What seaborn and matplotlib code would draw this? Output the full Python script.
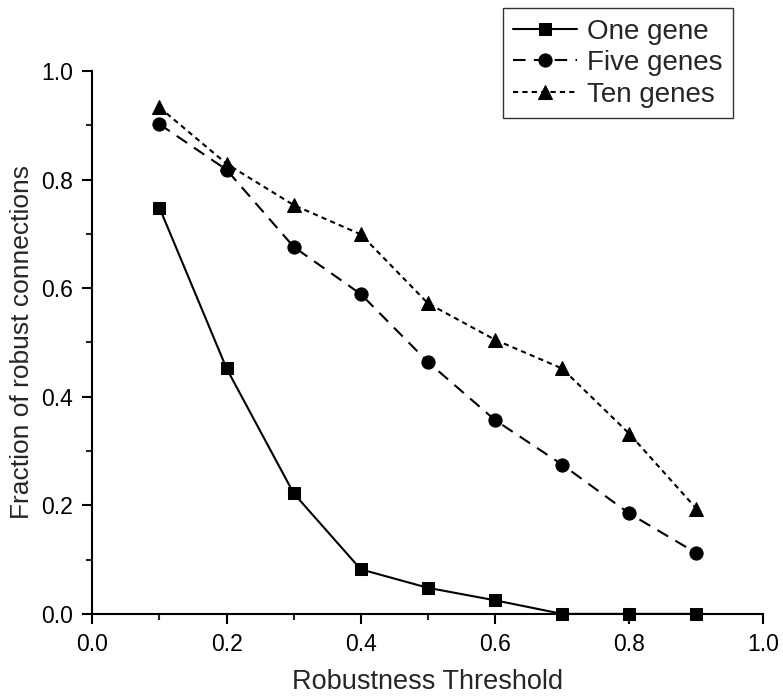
import matplotlib
matplotlib.use("Agg")
import matplotlib.pyplot as plt
from matplotlib.ticker import MultipleLocator
import seaborn as sns
import pandas as pd

# --- Data ---
thresholds = [0.1, 0.2, 0.3, 0.4, 0.5, 0.6, 0.7, 0.8, 0.9]
one_gene = [0.748, 0.452, 0.222, 0.082, 0.048, 0.025, 0.0, 0.0, 0.0]
five_genes = [0.902, 0.818, 0.676, 0.589, 0.464, 0.357, 0.275, 0.185, 0.112]
ten_genes = [0.933, 0.829, 0.753, 0.699, 0.572, 0.505, 0.452, 0.332, 0.194]
series_names = ["One gene", "Five genes", "Ten genes"]

sns.set_theme(style="ticks")
plt.rcParams["font.family"] = ["Liberation Sans", "DejaVu Sans"]

df = pd.DataFrame({
    "threshold": thresholds * 3,
    "fraction": one_gene + five_genes + ten_genes,
    "series": [n for n in series_names for _ in thresholds],
})

fig = plt.figure(figsize=(7.83, 6.96), dpi=100)
ax = fig.add_axes([0.118, 0.118, 0.857, 0.780])

styles = {
    "One gene": dict(marker="s", ls="-", ms=8.5),
    "Five genes": dict(marker="o", ls=(0, (6, 4)), ms=9.5),
    "Ten genes": dict(marker="^", ls=(0, (2.5, 2)), ms=10.5),
}
for name in series_names:
    sub = df[df["series"] == name]
    st = styles[name]
    sns.lineplot(data=sub, x="threshold", y="fraction", ax=ax, color="black",
                 marker=st["marker"], linestyle=st["ls"], markersize=st["ms"],
                 markeredgecolor="black", linewidth=1.5, label=name)

ax.set_xlim(0, 1.0)
ax.set_ylim(0, 1.0)
ax.xaxis.set_major_locator(MultipleLocator(0.2))
ax.xaxis.set_minor_locator(MultipleLocator(0.1))
ax.yaxis.set_major_locator(MultipleLocator(0.2))
ax.yaxis.set_minor_locator(MultipleLocator(0.1))
ax.set_xticklabels([f"{v:.1f}" for v in ax.get_xticks()])
ax.set_yticklabels([f"{v:.1f}" for v in ax.get_yticks()])
ax.tick_params(which="major", direction="out", length=7, width=1.5,
               labelsize=16.5, colors="black", pad=7)
ax.tick_params(which="minor", direction="out", length=4, width=1.5)
for side in ["left", "bottom"]:
    ax.spines[side].set_linewidth(1.5)
    ax.spines[side].set_color("black")
sns.despine(ax=ax)

ax.set_xlabel("Robustness Threshold", fontsize=19.5, labelpad=9)
ax.set_ylabel("Fraction of robust connections", fontsize=19, labelpad=5)

leg = ax.legend(loc="upper right", bbox_to_anchor=(733 / 783, 1 - 8 / 696),
                bbox_transform=fig.transFigure, fontsize=20, frameon=True,
                fancybox=False, edgecolor="black", handlelength=2.3,
                borderpad=0.38, labelspacing=0.2, handletextpad=0.35,
                borderaxespad=0)
leg.get_frame().set_linewidth(1.0)
for line in ax.get_lines():
    line.set_clip_on(False)

fig.savefig("out.png", dpi=100)
